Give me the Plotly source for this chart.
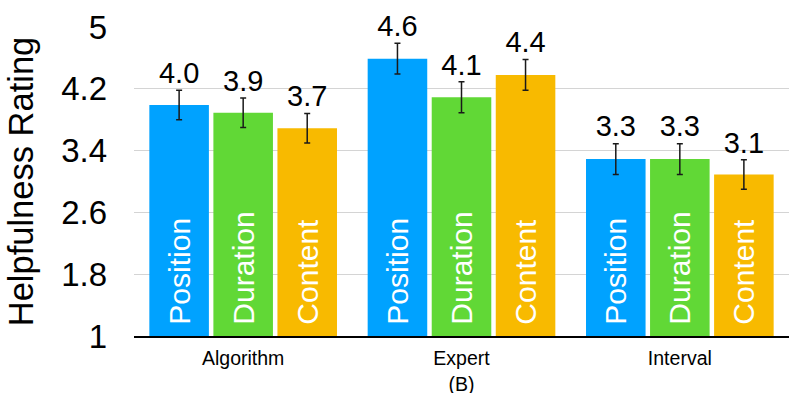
import plotly.graph_objects as go

# Datos
categorias = ["Algorithm", "Expert<br>(B)", "Interval"]
series = ["Position", "Duration", "Content"]
colores = ["#00A2FF", "#61D836", "#F8BA00"]

valores_position = [3.99, 4.59, 3.29]
valores_duration = [3.89, 4.09, 3.29]
valores_content = [3.69, 4.38, 3.09]

error_position = [0.19, 0.20, 0.20]
error_duration = [0.19, 0.20, 0.20]
error_content = [0.19, 0.20, 0.19]

ticks_y = [1, 1.8, 2.6, 3.4, 4.2, 5]
ticks_y_texto = ["1", "1.8", "2.6", "3.4", "4.2", "5"]

valores = [valores_position, valores_duration, valores_content]
errores = [error_position, error_duration, error_content]

FUENTE = "Liberation Sans, Arial, sans-serif"
BARGAP = 0.12

fig = go.Figure()

# Barras con el nombre de la serie dentro (rotado)
for nombre, color, vals, errs in zip(series, colores, valores, errores):
    fig.add_trace(go.Bar(
        x=categorias,
        y=[v - 1 for v in vals],
        base=1,
        name=nombre,
        marker=dict(color=color, line=dict(width=0)),
        error_y=dict(type="data", array=errs, color="#1a1a1a", thickness=1.5, width=3),
        text=["\u00a0" + nombre] * len(categorias),
        textposition="inside",
        insidetextanchor="start",
        textangle=-90,
        insidetextfont=dict(color="white", size=30, family=FUENTE),
        hoverinfo="skip",
    ))

# Etiquetas de valor encima de las barras de error
for nombre, vals, errs in zip(series, valores, errores):
    fig.add_trace(go.Scatter(
        x=categorias,
        y=[v + e for v, e in zip(vals, errs)],
        mode="text",
        text=[f"{v:.1f}" for v in vals],
        textposition="top center",
        textfont=dict(color="black", size=29, family=FUENTE),
        cliponaxis=False,
        showlegend=False,
        hoverinfo="skip",
    ))

fig.update_layout(
    width=789,
    height=393,
    barmode="group",
    bargap=BARGAP,
    bargroupgap=0.07,
    scattermode="group",
    scattergap=BARGAP,
    showlegend=False,
    plot_bgcolor="white",
    paper_bgcolor="white",
    font=dict(family=FUENTE, color="black"),
    margin=dict(l=134, r=0, t=27, b=57),
)

fig.update_xaxes(
    automargin=False,
    showline=True,
    linecolor="black",
    linewidth=1.5,
    showgrid=False,
    ticks="outside",
    ticklen=0,
    ticklabelstandoff=4,
    tickfont=dict(size=19.5),
)

fig.update_yaxes(
    automargin=False,
    range=[1, 5],
    tickvals=ticks_y,
    ticktext=ticks_y_texto,
    tickfont=dict(size=33),
    showgrid=True,
    gridcolor="#d4d4d4",
    gridwidth=1,
    zeroline=False,
    showline=False,
    ticklabelstandoff=26,
    title=dict(text="Helpfulness Rating", font=dict(size=34.5), standoff=17),
)

# quitar el margen del body para que la figura ocupe la ventana
fig.write_html(
    "out.html",
    config={"displayModeBar": False},
    post_script="document.body.style.margin='0';",
)
